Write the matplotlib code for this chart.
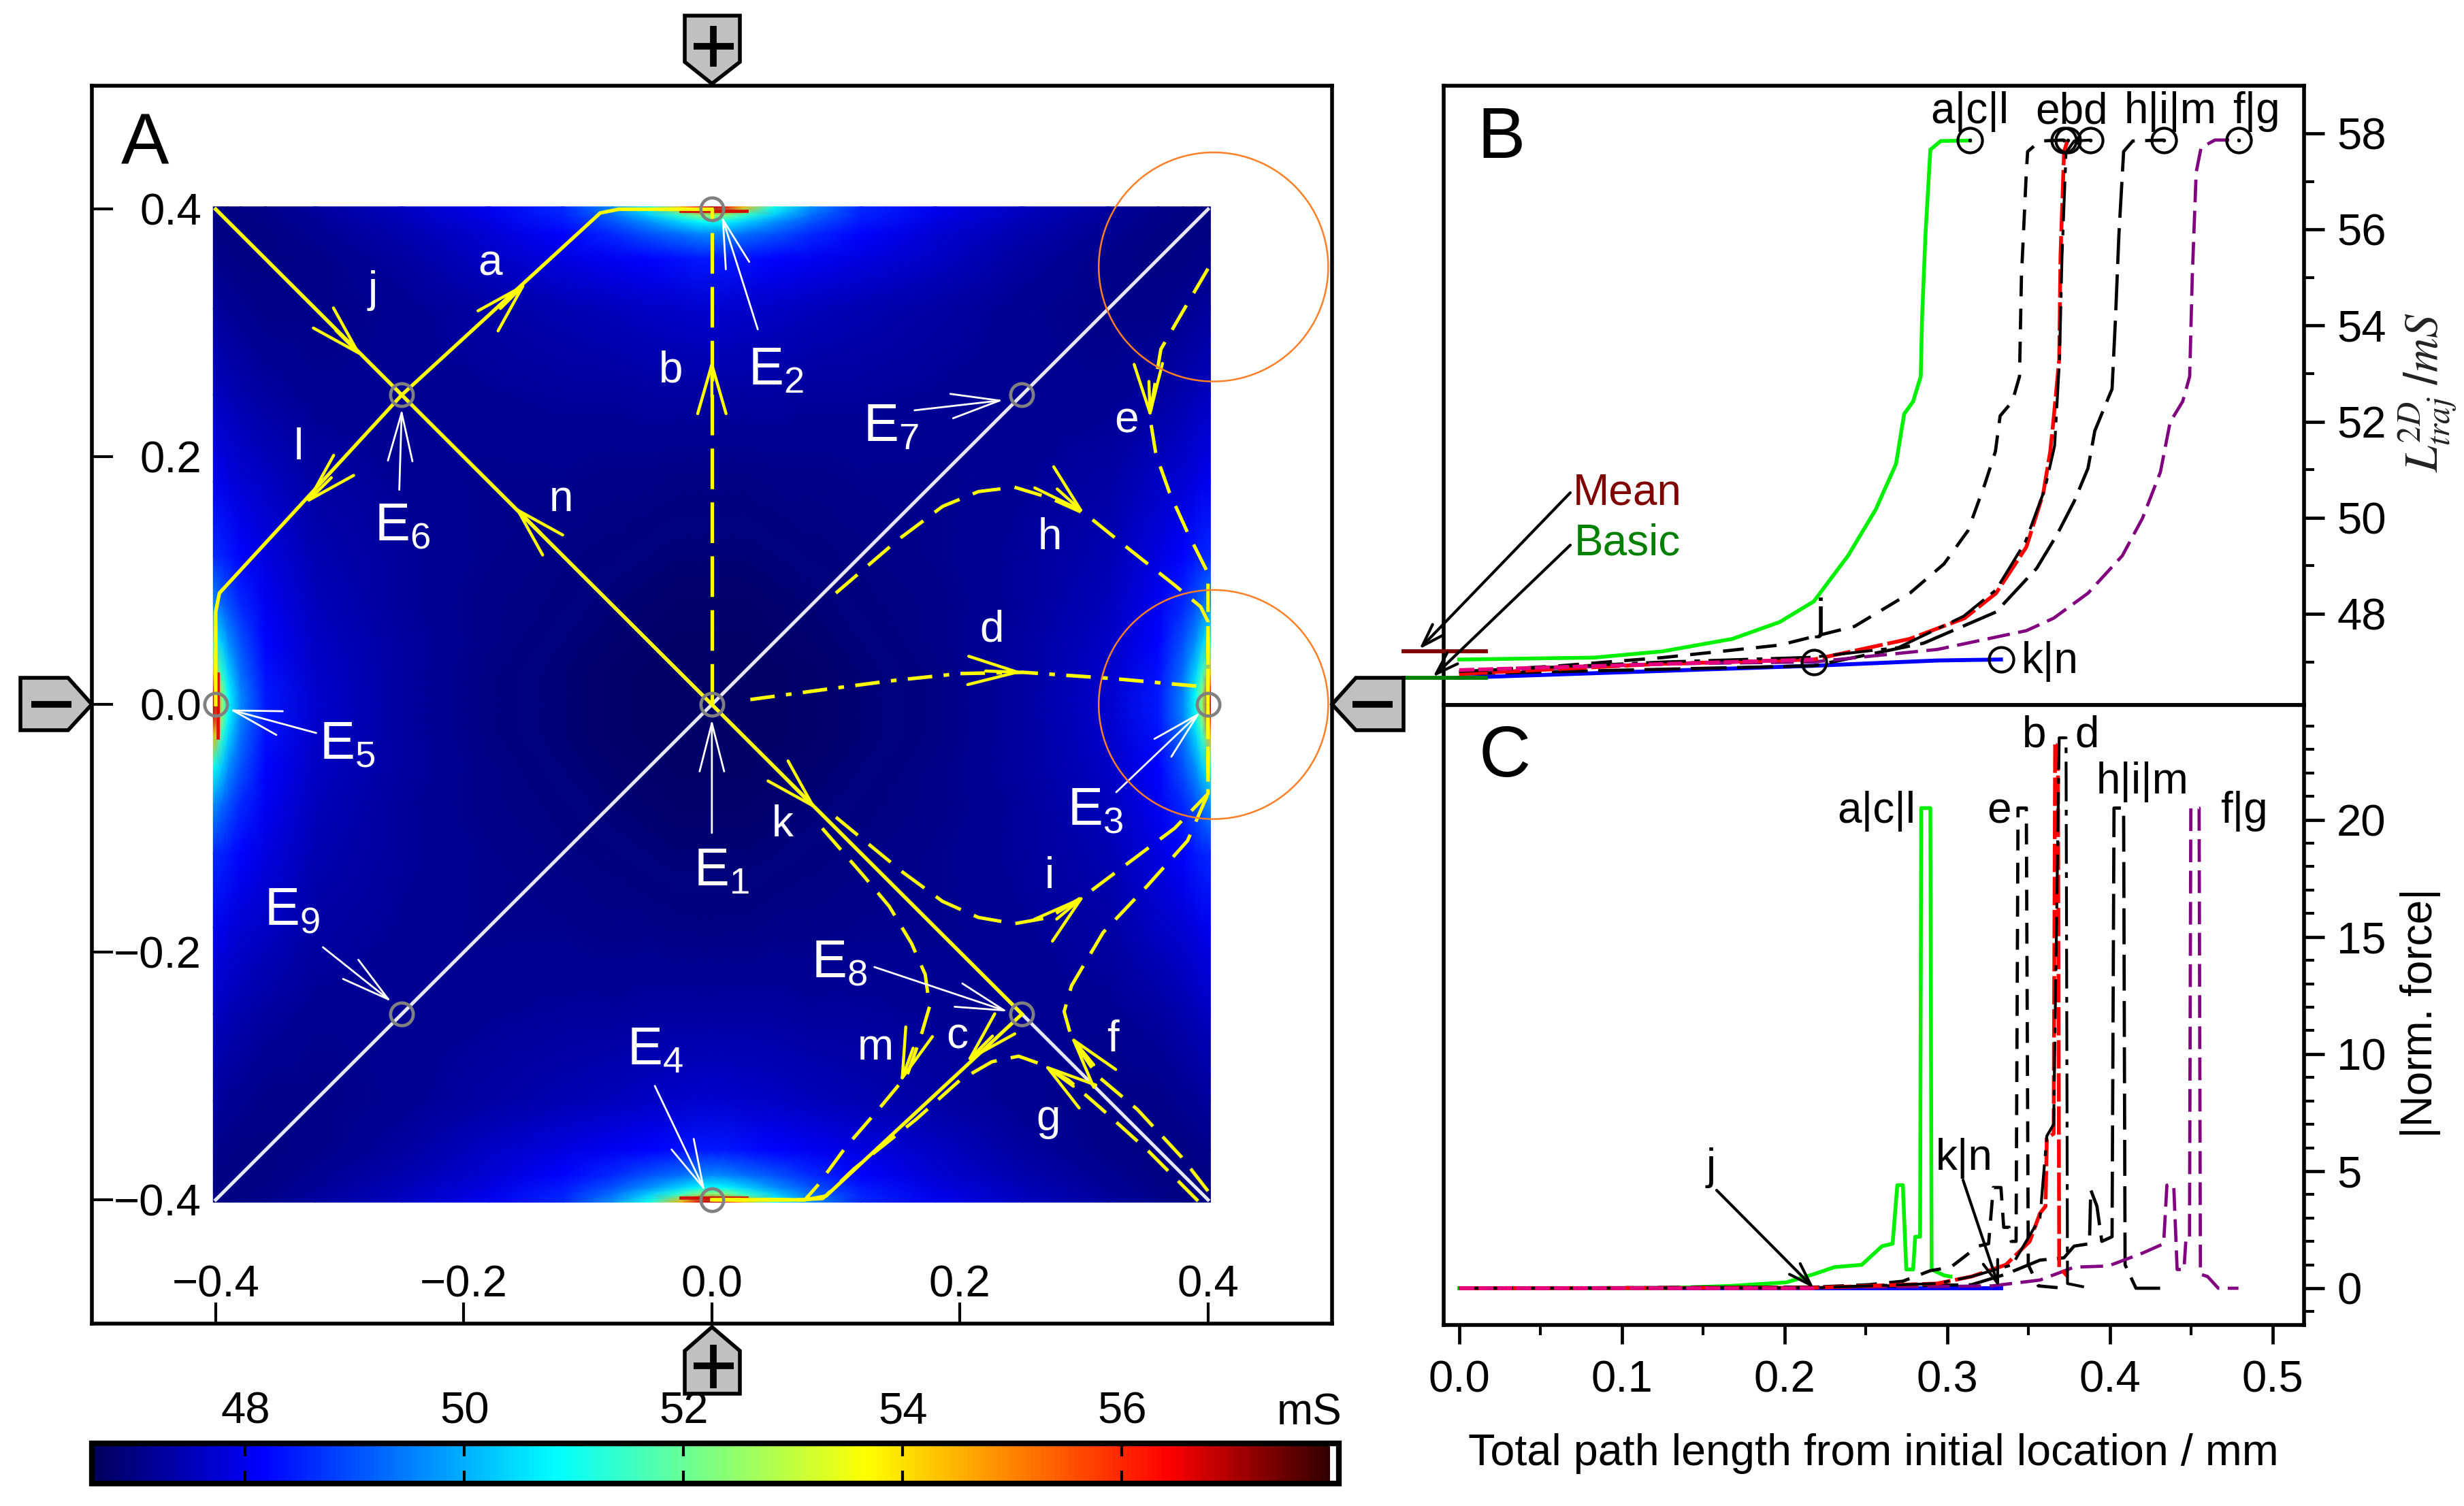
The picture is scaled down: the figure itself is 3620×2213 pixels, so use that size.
import numpy as np
import matplotlib
matplotlib.use('Agg')
import matplotlib.pyplot as plt
from matplotlib.colors import LinearSegmentedColormap, Normalize
from matplotlib.patches import Polygon, Circle

plt.rcParams['font.family'] = ['Liberation Sans', 'DejaVu Sans']
plt.rcParams['mathtext.fontset'] = 'custom'
plt.rcParams['mathtext.rm'] = 'Liberation Sans'
plt.rcParams['mathtext.it'] = 'Liberation Sans:italic'
plt.rcParams['mathtext.default'] = 'regular'
plt.rcParams['lines.scale_dashes'] = False

W, H, DPI = 3620, 2213, 100

# ---------- heat map: one quarter of the field ----------
field_coord = [0, .01, .025, .05, .08, .12, .18, .25, .32, .36, .38, .39, .395, .402]
field_quarter = [
 [46.72,46.72,46.72,46.74,46.78,46.85,47.00,47.25,47.70,48.40,49.60,50.90,52.50,57.00],
 [46.72,46.72,46.72,46.74,46.78,46.85,47.00,47.25,47.70,48.40,49.55,50.80,52.30,56.50],
 [46.72,46.72,46.74,46.75,46.79,46.87,47.01,47.25,47.66,48.30,49.35,50.40,51.40,54.50],
 [46.74,46.74,46.75,46.78,46.82,46.90,47.04,47.25,47.62,48.20,49.00,49.70,50.30,51.10],
 [46.78,46.78,46.79,46.82,46.88,46.95,47.06,47.22,47.54,48.05,48.60,49.00,49.30,49.70],
 [46.85,46.85,46.87,46.90,46.95,47.00,47.08,47.20,47.45,47.88,48.20,48.40,48.50,48.60],
 [47.00,47.00,47.01,47.04,47.06,47.08,47.10,47.16,47.32,47.60,47.75,47.88,47.95,48.00],
 [47.25,47.25,47.25,47.25,47.22,47.20,47.16,47.12,47.14,47.26,47.40,47.48,47.52,47.55],
 [47.70,47.70,47.66,47.62,47.54,47.45,47.32,47.14,47.06,47.06,47.12,47.18,47.22,47.26],
 [48.40,48.40,48.30,48.20,48.05,47.88,47.60,47.26,47.06,47.00,47.00,47.03,47.06,47.10],
 [49.60,49.55,49.35,49.00,48.60,48.20,47.75,47.40,47.12,47.00,46.98,46.99,47.00,47.04],
 [50.90,50.80,50.40,49.70,49.00,48.40,47.88,47.48,47.18,47.03,46.99,46.98,46.98,47.00],
 [52.50,52.30,51.40,50.30,49.30,48.50,47.95,47.52,47.22,47.06,47.00,46.98,46.98,47.00],
 [57.00,56.50,54.50,51.10,49.70,48.60,48.00,47.55,47.26,47.10,47.04,47.00,47.00,47.00],
]
cbar_ticks = [48, 50, 52, 54, 56]
cbar_min, cbar_max = 46.62, 57.90

# ---------- panel A trajectories ----------
el_x = [0, 0, .4, 0, -.4, -.25, .25, .25, -.25]
el_y = [0, .4, 0, -.4, 0, .25, .25, -.25, -.25]

t_j_x, t_j_y = [-.4, -.25], [.4, .25]
t_n_x, t_n_y = [0, -.25], [0, .25]
t_k_x, t_k_y = [0, .25], [0, -.25]
t_a_x, t_a_y = [-.25, -.09, -.075, 0], [.25, .397, .4, .4]
t_l_x, t_l_y = [-.25, -.397, -.4, -.4], [.25, .09, .075, 0]
t_c_x, t_c_y = [.25, .092, .075, 0], [-.25, -.397, -.4, -.4]
t_b_x, t_b_y = [0, 0], [0, .4]
t_d_x = [.031, .09, .143, .2, .251, .323, .4]
t_d_y = [.004, .012, .019, .025, .026, .021, .014]
t_e_x = [.4, .38, .362, .353, .358, .369, .383, .4, .4]
t_e_y = [.352, .318, .287, .233, .202, .171, .14, .106, 0]
t_h_x = [.1, .15, .186, .215, .244, .272, .301, .337, .373, .394, .4, .4]
t_h_y = [.09, .133, .16, .172, .1755, .167, .154, .125, .0965, .079, .067, 0]
t_i_x = [.1, .154, .186, .215, .244, .272, .301, .337, .373, .4, .4]
t_i_y = [-.091, -.1355, -.159, -.172, -.177, -.172, -.154, -.127, -.1, -.072, 0]
t_m_x = [.089, .122, .143, .161, .172, .1755, .168, .1575, .136, .1075, .0856, .075, 0]
t_m_y = [-.1, -.138, -.163, -.193, -.218, -.244, -.2695, -.299, -.325, -.358, -.388, -.4, -.4]
t_g_x = [.392, .352, .3166, .2877, .266, .2473, .2258, .2, .1647, .1146, .0894, .07, 0]
t_g_y = [-.401, -.3607, -.3287, -.3034, -.2907, -.284, -.2885, -.3034, -.335, -.375, -.399, -.4, -.4]
t_f_x = [.4, .3787, .343, .311, .29, .284, .29, .3155, .351, .3835, .4, .4]
t_f_y = [-.393, -.3655, -.327, -.3, -.2695, -.248, -.227, -.184, -.1465, -.11, -.072, 0]

arrow_tip_x = [-.282, -.1493, 0, -.328, -.1595, .3534, .3007, .2507, .0845, .301, .205, .152, .289, .2672]
arrow_tip_y = [.281, .341, .279, .162, .16, .231, .154, .026, -.0848, -.154, -.289, -.3057, -.2677, -.2907]
arrow_deg = [-45, 45, 90, 225, 135, -88, -42, -2, -45, 40, 225, -110, 129, 144]

# ---------- panel B curves ----------
b_green_x = [0, .083, .125, .168, .197, .218, .239, .256, .2685, .2735, .279, .2837, .2845, .2866, .2896, .296, .314]
b_green_y = [47.05, 47.09, 47.22, 47.48, 47.83, 48.26, 49.21, 50.17, 51.12, 52.16, 52.42, 52.94, 54.15, 55.89, 57.66, 57.84, 57.85]
b_e_x = [0, .062, .125, .197, .243, .277, .298, .3127, .323, .3296, .3325, .34, .3444, .3456, .3486, .3494, .357, .3717]
b_e_y = [46.79, 46.92, 47.09, 47.35, 47.74, 48.43, 49.04, 49.73, 50.69, 51.38, 52.12, 52.42, 52.94, 55.02, 57.19, 57.62, 57.84, 57.86]
b_b_x = [0, .125, .218, .277, .3107, .33, .3486, .359, .3633, .3654, .3688, .3696, .3718, .374]
b_b_y = [46.75, 46.96, 47.05, 47.48, 47.91, 48.43, 49.39, 50.51, 51.38, 52.07, 53.29, 55.45, 57.62, 57.86]
b_d_x = [0, .125, .218, .27, .31, .33, .348, .36, .366, .367, .369, .3705, .373, .378, .388]
b_d_y = [46.8, 47.0, 47.1, 47.3, 47.95, 48.5, 49.5, 50.6, 51.5, 52.1, 53.3, 55.4, 57.6, 57.84, 57.86]
b_h_x = [0, .218, .2855, .33, .355, .3675, .378, .3865, .3907, .397, .4013, .4034, .4055, .4084, .414, .433]
b_h_y = [46.75, 46.92, 47.39, 48.04, 48.95, 49.65, 50.34, 51.03, 51.81, 52.33, 52.68, 54.15, 55.89, 57.62, 57.84, 57.86]
b_f_x = [0, .125, .218, .294, .3486, .3654, .3865, .4076, .42, .431, .437, .4447, .449, .4506, .453, .456, .4645, .479]
b_f_y = [46.79, 46.96, 47.0, 47.26, 47.65, 47.91, 48.43, 49.21, 49.99, 50.95, 51.99, 52.42, 52.94, 55.02, 57.19, 57.7, 57.86, 57.86]
b_k_x = [0, .218, .294, .333]
b_k_y = [46.67, 46.92, 47.03, 47.05]
b_j_x = [0, .218]
b_j_y = [46.83, 47.05]
b_end_x = [.314, .3717, .374, .388, .433, .479]
b_end_y = [57.85, 57.86, 57.86, 57.86, 57.86, 57.86]
mean_level, basic_level = 47.22, 46.67

# ---------- panel C curves ----------
c_green_x = [0, .125, .167, .201, .218, .2306, .2474, .26, .2664, .2693, .2727, .2748, .279, .2803, .2833, .284, .2896, .2904, .298, .302]
c_green_y = [0, 0, .1, .25, .6, .9, 1.0, 1.8, 1.9, 4.4, 4.4, .8, .8, 2.2, 2.2, 20.5, 20.5, .8, .55, .5]
c_e_x = [0, .218, .2516, .2727, .2896, .3022, .319, .3254, .3283, .333, .3347, .338, .3393, .3423, .3435, .3486, .3498, .356, .3717]
c_e_y = [0, .05, .15, .3, .75, .9, 1.8, 1.9, 4.3, 4.3, 2.6, 2.6, 2, 2, 20.5, 20.5, 1.0, .1, 0]
c_b_x = [0, .218, .2938, .3149, .336, .3507, .357, .3604, .3612, .3654, .3663, .368, .3688, .374]
c_b_y = [0, .02, .2, .5, 1, 2, 3.2, 3.5, 6.4, 6.6, 23.3, 23.3, .9, .5]
c_d_x = [0, .218, .2938, .3149, .34, .357, .3612, .3654, .3688, .373, .3739, .388]
c_d_y = [0, .02, .2, .5, 1, 3, 6.5, 7, 23.5, 23.5, .2, 0]
c_h_x = [0, .218, .3149, .336, .357, .3717, .378, .3874, .3882, .392, .395, .4013, .4025, .4084, .4093, .416, .433]
c_h_y = [0, .05, .15, .6, 1.2, 1.3, 1.8, 1.9, 4.2, 3.5, 2, 2.2, 20.5, 20.5, 1, .0, 0]
c_f_x = [0, .218, .3275, .357, .378, .399, .42, .433, .435, .4392, .4413, .4455, .4468, .4489, .4497, .4548, .4556, .46, .4666, .479]
c_f_y = [0, .02, .1, .35, .9, .95, 1.5, 1.9, 4.4, 4.4, .8, .8, 2.2, 2.2, 20.5, 20.5, .6, .5, 0, 0]
c_k_x = [0, .333]
c_k_y = [0, 0]
c_j_x = [0, .218]
c_j_y = [0, 0]

# ---------- helpers ----------
fig = plt.figure(figsize=(W / DPI, H / DPI), dpi=DPI, facecolor='white')

def px_axes(l, t, r, b, **kw):
    return fig.add_axes([l / W, 1 - b / H, (r - l) / W, (b - t) / H], **kw)

cmap = LinearSegmentedColormap.from_list('bar', [
    (0.0, (0, 0, .37)), (.135, (0, 0, 1)), (.374, (0, 1, 1)),
    (.626, (1, 1, 0)), (.87, (1, 0, 0)), (1.0, (.2, 0, 0))])
norm = Normalize(cbar_min, cbar_max)
TICK = 47

# ---------- panel A ----------
axA = px_axes(134.7, 125.5, 1957, 1945)
coord = np.array(field_coord)
full = np.r_[-coord[:0:-1], coord]
q = np.array(field_quarter)
upper = np.hstack([q[:, :0:-1], q])
Z = np.vstack([upper[:0:-1], upper])
mesh = axA.pcolormesh(full, full, Z, cmap=cmap, norm=norm, shading='gouraud', zorder=0)
axA.set_xlim(-.5, .5)
axA.set_ylim(-.5, .5)
axA.set_xticks([-.4, -.2, 0, .2, .4])
axA.set_yticks([-.4, -.2, 0, .2, .4])
axA.xaxis.set_major_formatter(matplotlib.ticker.FuncFormatter(lambda v, p: f'{v:.1f}'.replace('-', '\u2212')))
axA.yaxis.set_major_formatter(matplotlib.ticker.FuncFormatter(lambda v, p: f'{v:.1f}'.replace('-', '\u2212')))
axA.tick_params(axis='x', direction='in', length=22, width=3, labelsize=TICK, pad=-62)
axA.tick_params(axis='y', direction='in', length=22, width=3, labelsize=TICK, pad=-116)
for s in axA.spines.values():
    s.set_linewidth(4)

axA.plot([-.4, .4], [-.4, .4], color='#e8e8f4', lw=3.6, zorder=2)
axA.plot([-.4, .4], [.4, -.4], color='#e8e8f4', lw=3.6, zorder=2)

YEL = '#ffff00'
for xs, ys in [(t_j_x, t_j_y), (t_n_x, t_n_y), (t_k_x, t_k_y), (t_a_x, t_a_y), (t_l_x, t_l_y), (t_c_x, t_c_y)]:
    axA.plot(xs, ys, color=YEL, lw=3.8, zorder=3, solid_joinstyle='round')
axA.plot(t_b_x, t_b_y, color=YEL, lw=3.8, ls=(0, (43, 14)), zorder=3)
axA.plot(t_d_x, t_d_y, color=YEL, lw=3.8, ls=(0, (26, 12, 6, 12)), zorder=3)
for xs, ys in [(t_e_x, t_e_y), (t_h_x, t_h_y), (t_i_x, t_i_y), (t_m_x, t_m_y), (t_g_x, t_g_y), (t_f_x, t_f_y)]:
    axA.plot(xs, ys, color=YEL, lw=3.6, ls=(0, (30, 15)), zorder=3)

# red strip at the electrode rims
axA.plot([-.025, .028], [.3985, .3985], color='#d01000', lw=3.4, zorder=2.5)
axA.plot([-.025, .028], [-.3985, -.3985], color='#d01000', lw=3.4, zorder=2.5)
axA.plot([-.3985, -.3985], [-.027, .025], color='#e01000', lw=3.4, zorder=2.5)

def v_arrow(ax, tx, ty, deg, color, hl, hw, lw, tail=.03, z=4):
    a = np.deg2rad(deg)
    ax.annotate('', xy=(tx, ty), xytext=(tx - tail * np.cos(a), ty - tail * np.sin(a)),
                arrowprops=dict(arrowstyle=f'->,head_length={hl},head_width={hw}', mutation_scale=1,
                                color=color, lw=lw, shrinkA=0, shrinkB=0), zorder=z)

for tx, ty, deg in zip(arrow_tip_x, arrow_tip_y, arrow_deg):
    v_arrow(axA, tx, ty, deg, YEL, 52, 15, 3.2)

# electrode label pointers (tail, tip) in panel coordinates
pointers = [((0, -.1037), (0, -.012)), ((.037, .303), (.008, .3945)), ((.326, -.0708), (.394, -.006)),
            ((-.046, -.308), (-.0055, -.393)), ((-.319, -.023), (-.389, -.004)), ((-.252, .1734), (-.25, .2387)),
            ((.1634, .2376), (.235, .2458)), ((.131, -.212), (.2386, -.248)), ((-.3136, -.196), (-.2584, -.24))]
for tail, tip in pointers:
    axA.annotate('', xy=tip, xytext=tail,
                 arrowprops=dict(arrowstyle='->,head_length=51,head_width=13', mutation_scale=1,
                                 color='white', lw=2.0, shrinkA=0, shrinkB=0), zorder=5)

axA.plot(el_x, el_y, ls='none', marker='o', ms=24, mfc='none', mec='#808080', mew=3.4, zorder=6, clip_on=False)
for cy in (.3534, 0):
    axA.add_patch(Circle((.4044, cy), .0925, fc='none', ec='#ff7f27', lw=1.8, zorder=7, clip_on=False))

# ---------- colour bar ----------
cax = px_axes(135, 2121, 1967, 2180)
cb = fig.colorbar(mesh, cax=cax, orientation='horizontal')
cb.set_ticks(cbar_ticks)
cax.set_xlim(46.60, 57.98)
cax.set_xticks(cbar_ticks)
cax.minorticks_off()
cax.tick_params(axis='x', top=True, bottom=True, labeltop=True, labelbottom=False,
                direction='in', length=14, width=3, labelsize=TICK, pad=12)
cb.outline.set_linewidth(6)
cb.outline.set_edgecolor('black')

# ---------- panels B and C ----------
axB = px_axes(2120.6, 126, 3385, 1035.5)
axC = px_axes(2120.6, 1036, 3385, 1946.7)
xl = (-.0097, .5193)
axB.set_xlim(*xl); axC.set_xlim(*xl)
axB.set_ylim(46.11, 58.99)
axC.set_ylim(-1.56, 24.9)

GREEN, PURP, BLUE, RED, PINK = '#00f000', '#800080', '#0000ff', '#ff0000', '#e6007e'
LW = 3.4
def curves(ax, g, e, b, d, h, f, k, j):
    ax.plot(*k, color=BLUE, lw=4.2, zorder=2)
    ax.plot(*g, color=GREEN, lw=4.0, zorder=3)
    ax.plot(*e, color='k', lw=LW, ls=(0, (22, 13)), zorder=3)
    ax.plot(*h, color='k', lw=LW, ls=(0, (38, 11)), zorder=3)
    ax.plot(*f, color=PURP, lw=LW, ls=(0, (24, 9)), zorder=3)
    ax.plot(*b, color=RED, lw=LW + .6, ls=(0, (30, 5)), zorder=4)
    ax.plot(*d, color='k', lw=LW - .4, ls=(0, (42, 9, 6, 9)), zorder=5)
    ax.plot(*j, color=PINK, lw=4.0, ls=(0, (16, 4)), zorder=5)

curves(axB, (b_green_x, b_green_y), (b_e_x, b_e_y), (b_b_x, b_b_y), (b_d_x, b_d_y),
       (b_h_x, b_h_y), (b_f_x, b_f_y), (b_k_x, b_k_y), (b_j_x, b_j_y))
curves(axC, (c_green_x, c_green_y), (c_e_x, c_e_y), (c_b_x, c_b_y), (c_d_x, c_d_y),
       (c_h_x, c_h_y), (c_f_x, c_f_y), (c_k_x, c_k_y), (c_j_x, c_j_y))

axB.plot(b_end_x, b_end_y, ls='none', marker='o', ms=26, mfc='none', mec='k', mew=3, zorder=7)
axB.plot(b_end_x, b_end_y, ls='none', marker='o', ms=3, color='k', zorder=7)
axB.plot([b_j_x[-1], b_k_x[-1]], [b_j_y[-1] - .05, b_k_y[-1]], ls='none', marker='o', ms=26,
         mfc='none', mec='k', mew=3, zorder=7)
axB.plot([-.0342, .0162], [mean_level] * 2, color='#800000', lw=4.2, clip_on=False, zorder=8)
axB.plot([-.0342, .0162], [basic_level] * 2, color='#008000', lw=4.2, clip_on=False, zorder=8)

for ax in (axB, axC):
    ax.yaxis.tick_right()
    ax.tick_params(axis='y', which='major', direction='out', length=21.6, width=3.4, labelsize=TICK, pad=13)
    ax.tick_params(axis='y', which='minor', direction='out', length=11, width=3)
    for s in ax.spines.values():
        s.set_linewidth(4)
axB.set_yticks([48, 50, 52, 54, 56, 58])
axB.set_yticks([47, 49, 51, 53, 55, 57], minor=True)
axC.set_yticks([0, 5, 10, 15, 20])
axC.set_yticks([v for v in range(-1, 25) if v % 5], minor=True)
axB.set_xticks([])
axC.set_xticks([0, .1, .2, .3, .4, .5])
axC.set_xticks([.05, .15, .25, .35, .45], minor=True)
axC.xaxis.set_major_formatter(matplotlib.ticker.FormatStrFormatter('%.1f'))
axC.tick_params(axis='x', which='major', direction='out', length=20, width=3.4, labelsize=TICK, pad=17)
axC.tick_params(axis='x', which='minor', direction='out', length=11, width=3)

# ---------- overlay in figure pixels: texts and electrode plates ----------
ov = fig.add_axes([0, 0, 1, 1], zorder=50)
ov.set_xlim(0, W); ov.set_ylim(H, 0); ov.axis('off'); ov.patch.set_alpha(0)

plate_pts = [
    [(1006, 23), (1087, 23), (1087, 91), (1046, 123), (1006, 91)],
    [(1046, 1950), (1087, 1985), (1087, 2048), (1006, 2048), (1006, 1985)],
    [(30, 996), (100, 996), (135, 1035), (100, 1073), (30, 1073)],
    [(2062, 996), (1992, 996), (1957, 1035), (1992, 1073), (2062, 1073)],
]
for pts in plate_pts:
    ov.add_patch(Polygon(pts, closed=True, fc='#c0c0c0', ec='k', lw=4))
for x0, x1, yy in [(1019, 1078, 68), (1019, 1078, 2007), (46, 105, 1035), (1987, 2046, 1035)]:
    ov.plot([x0, x1], [yy, yy], color='k', lw=7, solid_capstyle='butt')
for xx, y0, y1 in [(1048, 38, 98), (1048, 1976, 2040)]:
    ov.plot([xx, xx], [y0, y1], color='k', lw=7, solid_capstyle='butt')

def T(x, y, s, size=46, color='k', **kw):
    ov.text(x, y, s, fontsize=size, color=color, ha='center', va='center', **kw)

for s, x, y in [('A', 213, 213), ('B', 2206, 205), ('C', 2211, 1113)]:
    T(x, y, s, size=76)

D = W / 1568
for s, x, y in [('j', 237, 185), ('a', 312, 168), ('b', 427, 236), ('e', 717, 268), ('h', 668, 342),
                ('d', 631, 401), ('l', 190, 285), ('n', 357, 318), ('k', 498, 525), ('i', 668, 558),
                ('m', 557, 667), ('c', 609, 660), ('f', 708, 662), ('g', 667, 712)]:
    T(x * D, y * D, s, color='white')
for n, x, y in [(1, 459, 555), (2, 494, 236), (3, 697, 516), (4, 417, 669), (5, 221, 474),
                (6, 256, 335), (7, 567, 272), (8, 534, 613), (9, 186, 580)]:
    T(x * D, y * D, f'E$_{{{n}}}$', size=56, color='white')

for s, x, y in [('a|c|l', 2894, 164), ('ebd', 3043, 164), ('h|i|m', 3189, 164), ('f|g', 3315, 164),
                ('j', 2675, 908), ('k|n', 3012, 972),
                ('a|c|l', 2757, 1192), ('e', 2937, 1192), ('b', 2989, 1081), ('d', 3066, 1081),
                ('h|i|m', 3148, 1149), ('f|g', 3297, 1192), ('j', 2514, 1716), ('k|n', 2886, 1702)]:
    T(x, y, s)

T(2391, 724, 'Mean', color='#800000')
T(2391, 798, 'Basic', color='#008000')
for tail, tip in [((2307, 724), (2085, 954)), ((2307, 801), (2105, 995)),
                  ((2522, 1749), (2665, 1893)), ((2884, 1734), (2937, 1892))]:
    ov.annotate('', xy=tip, xytext=tail,
                arrowprops=dict(arrowstyle='->,head_length=24,head_width=8', mutation_scale=1,
                                color='k', lw=3, shrinkA=0, shrinkB=0))

T(1924, 2076, 'mS', size=46)
T(2752, 2136, 'Total path length from initial location / mm', size=46.5)
T(3556, 1489, '|Norm. force|', size=46, rotation=90)
ov.text(3567, 577, r'$\mathit{L}_{\mathit{traj}}^{\mathit{2D}}\ /\mathit{mS}$', fontsize=50, rotation=90,
        ha='center', va='center', math_fontfamily='stix', color='#222222')

fig.savefig('out.png', dpi=DPI)
